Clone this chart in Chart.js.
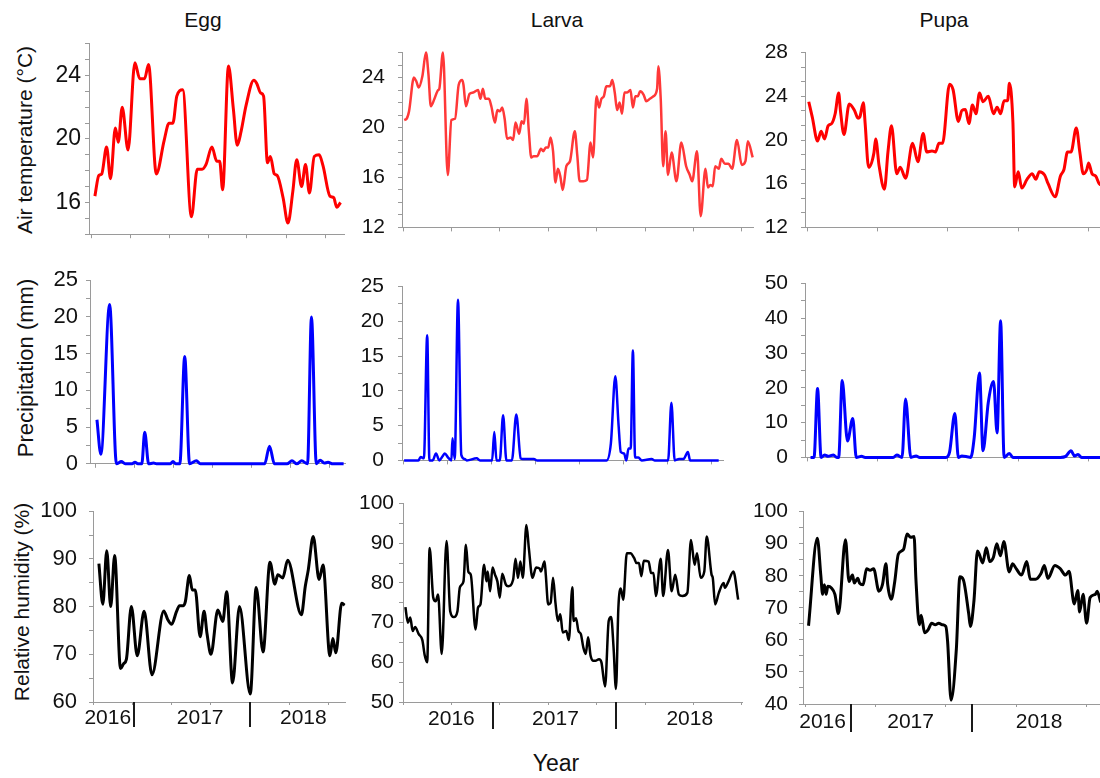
<!DOCTYPE html>
<html>
<head>
<meta charset="utf-8">
<title>Weather by stage</title>
<script src="https://cdn.jsdelivr.net/npm/chart.js@4.4.1/dist/chart.umd.min.js"></script>
<style>
  html, body { margin: 0; padding: 0; background: #fff; overflow: hidden; }
  body { width: 1100px; height: 778px; position: relative; font-family: "Liberation Sans", Arial, sans-serif; color: #111; }
  canvas { position: absolute; }
  .t { position: absolute; white-space: nowrap; line-height: 1; transform: translateX(-50%); }
  .r { position: absolute; white-space: nowrap; line-height: 1; transform: translate(-50%, -50%) rotate(-90deg); }
</style>
</head>
<body>
<div class="t" style="left:203px; top:9px; font-size:21px;">Egg</div>
<div class="t" style="left:557px; top:9px; font-size:21px;">Larva</div>
<div class="t" style="left:944px; top:9px; font-size:21px;">Pupa</div>
<div class="t" style="left:556px; top:752px; font-size:23px;">Year</div>
<div class="r" style="left:24px; top:140px; font-size:21px;">Air temperature (°C)</div>
<div class="r" style="left:26px; top:368px; font-size:22px;">Precipitation (mm)</div>
<div class="r" style="left:21px; top:602px; font-size:21px;">Relative humidity (%)</div>

<script>
// sample index (t) and value arrays for each stage
const eggTempT = [4,8,11,16,20,25,28,32,38,45,50,55,59,67,75,80,84,88,94,103,109,114,118,124,129,132,135,141,146,150,154,159,167,170,174,177,181,184,188,191,197,202,207,211,216,220,224,229,234,238,245,249,252,256];
const eggTemp  = [16.4,17.7,17.8,19.5,17.5,20.7,19.8,22.0,19.3,24.8,23.8,23.8,24.7,17.8,19.9,21.0,21.0,22.7,23.1,15.1,18.1,18.1,18.4,19.5,18.6,18.6,16.8,24.6,21.9,19.6,20.5,22.1,23.7,23.5,22.9,22.7,18.5,18.9,17.8,17.7,16.3,14.7,16.7,18.7,17.0,18.4,16.6,18.9,19.0,18.3,16.4,16.3,15.7,16.0];

const eggRainT = [2,6,15,22,27,31,38,41,44,48,51,55,60,63,77,80,83,87,92,97,104,108,174,179,184,197,202,207,212,218,222,227,231,235,239,244,255];
const eggRain  = [6.0,1.3,21.7,0,0.3,0,0,0.2,0,0,4.3,0,0.1,0,0,0.3,0,0,14.6,0,0.4,0,0,2.4,0,0,0.4,0,0.4,0,20.0,0,0.5,0.1,0.2,0,0];

const eggHumT = [6,10,14,18,22,28,31,34,39,45,52,60,72,76,80,85,88,92,94,98,101,104,109,113,116,120,127,132,136,142,149,160,166,173,180,185,188,193,198,212,216,219,224,230,234,241,244,247,253,256];
const eggHum  = [89.0,80.5,91.7,80.0,90.7,67.0,68.0,69.0,80.0,69.7,79.0,65.7,79.1,77.3,76.3,79.0,80.2,80.2,81.1,86.5,83.5,83.5,73.7,79.0,74.3,70.0,79.3,76.9,83.1,64.0,80.0,61.7,84.0,70.5,89.3,84.7,86.7,86.0,89.7,78.3,84.3,87.7,94.7,85.7,88.7,69.7,73.3,70.3,80.7,80.3];

const larvaTempT = [1,3,5,9,11,13,16,19,21,23,26,29,30,33,37,40,43,46,49,50,52,55,58,62,64,66,68,71,73,76,78,80,82,84,86,89,91,93,96,98,100,102,104,106,108,111,114,116,118,120,122,124,126,128,130,132,135,138,142,144,146,149,152,155,157,160,162,164,166,168,171,173,175,177,179,181,183,185,188,190,192,194,196,199,201,204,207,210,211,213,215,217,219,222,226,230,234,237,239,243,246,250,252,254,256,258,261,263,266,269,272,276,280,283,285,289];
const larvaTemp  = [20.6,20.7,21.3,24.0,23.7,23.2,24.1,26.0,24.3,21.7,22.3,23.0,23.1,26.0,16.2,20.6,20.7,23.4,23.8,23.4,21.7,22.7,22.8,23.0,22.3,23.1,22.3,22.3,21.7,20.4,21.4,21.3,21.6,20.7,19.1,19.2,19.0,20.4,19.5,20.5,20.3,22.3,19.7,17.6,17.7,17.7,18.3,18.1,18.4,18.4,19.2,18.1,15.6,16.7,16.1,15.0,16.9,17.3,19.7,17.8,15.7,15.7,15.8,18.8,17.6,22.5,21.6,22.3,22.5,23.3,23.3,23.8,22.8,21.4,22.0,21.1,22.8,22.8,23.0,21.6,22.5,22.5,22.9,22.6,22.1,22.3,22.5,23.1,24.9,22.3,16.9,19.7,16.2,18.0,15.7,18.8,16.9,16.2,15.7,18.1,12.9,16.7,15.2,15.4,15.3,16.9,16.7,17.5,17.1,17.1,16.7,19.0,17.0,17.3,18.9,17.6];

const larvaRainT = [1,14,16,19,22,24,27,30,33,36,38,41,44,45,47,50,53,56,58,67,70,81,83,85,88,91,94,99,103,107,109,119,122,185,189,193,196,198,201,203,205,207,209,211,214,217,226,229,241,244,247,251,255,259,261,287];
const larvaRain  = [0,0,0.5,0.3,18.0,0,0,1.0,0,0.6,1.0,0.4,0,3.2,0.2,23.1,0.8,0.2,0,0.3,0,0,4.1,0,0,6.5,0,0,6.6,0.3,0.2,0.2,0,0,2.5,12.1,5.0,1.2,1.0,0,1.7,1.7,15.8,0.4,0.4,0,0.2,0,0,8.3,0,0.2,0.2,1.2,0,0];

const larvaHumT = [2,4,6,8,10,13,16,18,20,22,25,27,29,32,36,39,42,45,47,50,52,54,56,60,62,64,67,69,70,72,74,76,78,80,82,85,87,91,93,95,97,99,102,104,107,110,113,114,117,118,120,122,124,126,128,130,132,135,137,140,141,143,145,147,149,151,153,155,157,159,162,164,167,170,172,174,176,178,180,182,185,188,191,193,195,197,199,203,205,207,209,213,215,219,222,225,228,231,235,238,241,243,246,249,251,255,256,258,261,265,266,269,273,277];
const larvaHum  = [73.9,70.0,71.3,67.9,68.9,67.1,65.6,61.7,60.0,88.8,76.3,75.4,77.1,62.1,90.6,72.9,71.4,72.9,78.9,80.4,89.6,82.8,82.1,68.3,73.8,74.6,84.6,80.4,82.9,77.9,83.9,82.1,80.4,76.3,82.3,79.6,79.2,80.8,86.1,81.3,85.4,81.3,94.6,88.8,81.3,83.9,83.6,82.9,85.4,82.1,74.6,75.0,81.3,75.0,70.4,72.1,67.5,67.9,65.6,78.9,70.4,71.1,67.9,67.1,63.8,62.1,66.3,61.7,60.4,60.4,60.8,60.0,53.9,70.4,71.4,63.8,53.3,73.8,78.6,75.8,87.5,87.5,86.3,85.0,85.0,81.7,85.6,85.4,82.5,82.5,76.7,86.1,76.7,88.3,77.9,82.1,77.1,76.7,77.5,90.8,84.6,87.5,81.3,82.9,91.7,82.1,81.3,74.6,77.5,80.0,78.8,80.4,82.9,75.8];

const pupaTempT = [1,3,6,8,10,12,14,16,18,19,21,24,27,29,30,32,33,35,38,39,41,44,46,48,51,53,56,60,63,66,68,71,73,75,77,81,83,86,88,90,92,94,96,98,100,103,106,108,110,112,114,115,117,118,120,122,125,128,130,132,135,137,141,144,146,148,150,153,155,157,159,160,162,164,166,168];
const pupaTemp  = [23.5,22.1,19.9,20.8,20.1,21.3,21.5,22.4,24.3,22.7,20.5,23.3,22.7,22.0,22.1,23.4,21.6,17.5,18.8,20.1,17.6,15.5,18.9,21.3,16.9,17.5,16.5,19.7,18.0,20.6,18.9,19.0,18.9,19.7,19.7,25.1,24.6,21.7,22.7,22.8,21.5,23.2,22.4,24.3,23.5,24.0,22.4,23.0,22.4,23.6,23.6,25.2,21.6,15.7,17.1,15.6,16.4,16.9,16.4,17.1,16.8,16.0,14.8,16.7,17.3,18.9,18.9,21.1,18.9,16.9,17.3,17.9,16.9,16.7,16.0,15.8];

const pupaRainT = [2,4,6,8,10,12,15,17,18,20,23,26,28,31,33,49,51,54,56,59,62,64,79,81,84,86,88,91,93,95,98,100,103,106,108,110,112,115,117,144,147,150,152,154,156,168];
const pupaRain  = [0,0,19.8,0,0.7,0.3,0.7,0,0,22.1,4.7,11.2,0,0.3,0,0,0.7,0,16.8,0,0.4,0,0,1.5,12.6,0,0.4,0.2,0,5.7,24.3,1.9,15.8,21.8,7.0,39.3,0,1.1,0,0,0.3,1.9,0.4,0.8,0,0];

const pupaHumT = [2,7,9,10,11,12,13,15,17,19,23,25,27,28,30,31,33,35,37,39,42,44,46,47,49,51,53,56,58,60,62,63,65,66,68,70,72,74,76,78,80,81,83,86,88,90,93,94,96,98,99,101,103,105,107,109,111,113,116,118,120,123,126,128,131,134,136,138,142,145,148,150,153,155,156,158,160,162,165,166,168];
const pupaHum  = [64.4,91.7,80.0,74.2,77.2,74.2,76.7,76.2,74.2,68.2,91.2,78.2,80.2,77.7,79.2,77.7,77.2,82.2,81.7,82.2,75.2,77.2,83.7,77.2,72.7,78.2,86.7,88.2,93.0,92.0,92.2,79.2,64.7,67.7,62.2,63.2,65.2,64.7,65.2,64.7,64.2,59.7,41.2,57.2,79.7,78.7,68.2,64.2,72.2,87.7,86.7,84.0,88.7,84.4,85.7,90.0,86.2,90.7,81.2,83.7,82.2,80.2,84.4,78.9,78.9,80.6,83.2,79.2,83.2,82.2,80.2,81.4,71.2,75.4,68.7,74.2,65.2,73.2,74.2,75.2,71.7];

// year labels and where each year ends, in sample index
const yearNames = ['2016', '2017', '2018'];
const eggYearAt = [15, 109, 214],   eggYearBreaks = [42, 160];
const larvaYearAt = [40, 126, 237], larvaYearBreaks = [74, 176];
const pupaYearAt = [10, 60, 133],   pupaYearBreaks = [26, 95];

const FONT = '"Liberation Sans", Arial, sans-serif';
const AXIS = '#9a9a9a';
const YW = 80, RP = 8, TP = 16;

// tick marks under the bottom axis split the years; labels sit between them
function yearPlugin(cfg) {
  return {
    id: 'yearMarks',
    afterDraw(chart) {
      const { ctx, chartArea } = chart;
      const x = chart.scales.x;
      ctx.save();
      ctx.strokeStyle = '#1a1a1a';
      ctx.lineWidth = 2;
      cfg.breaks.forEach(b => {
        const px = Math.round(x.getPixelForValue(b));
        ctx.beginPath();
        ctx.moveTo(px, chartArea.bottom);
        ctx.lineTo(px, chartArea.bottom + cfg.sep);
        ctx.stroke();
      });
      ctx.fillStyle = '#111';
      ctx.font = '21px ' + FONT;
      ctx.textAlign = 'center';
      ctx.textBaseline = 'alphabetic';
      cfg.labels.forEach((s, i) => ctx.fillText(s, x.getPixelForValue(cfg.at[i]), chartArea.bottom + cfg.dy));
      ctx.restore();
    }
  };
}

function makePanel(p) {
  const plotW = p.right - p.left, plotH = p.bottom - p.top;
  const XH = p.years ? 40 : 10;
  const w = YW + plotW + RP, h = TP + plotH + XH;
  const cv = document.createElement('canvas');
  cv.width = w; cv.height = h;
  cv.style.left = (p.left - YW) + 'px';
  cv.style.top = (p.top - TP) + 'px';
  cv.style.width = w + 'px';
  cv.style.height = h + 'px';
  document.body.appendChild(cv);

  const xMin = (p.left - p.x0) / p.ppu;
  const xMax = (p.right - p.x0) / p.ppu;

  new Chart(cv, {
    type: 'line',
    data: {
      datasets: [{
        data: p.t.map((t, i) => ({ x: t, y: p.v[i] })),
        borderColor: p.color,
        borderWidth: p.lw,
        pointRadius: 0,
        cubicInterpolationMode: 'monotone',
        tension: 0.4,
        clip: false
      }]
    },
    options: {
      responsive: false,
      animation: false,
      devicePixelRatio: 1,
      events: [],
      layout: { padding: { top: TP, right: RP, left: 0, bottom: 0 } },
      plugins: { legend: { display: false }, tooltip: { enabled: false } },
      scales: {
        x: {
          type: 'linear',
          min: xMin,
          max: xMax,
          afterBuildTicks: s => {
            const ticks = [];
            for (let v = 0; v <= xMax; v += 40) ticks.push({ value: v });
            s.ticks = ticks;
          },
          afterFit: s => { s.height = XH; },
          ticks: { display: false },
          grid: { drawOnChartArea: false, tickLength: p.years ? 3 : 4, color: AXIS },
          border: { color: AXIS }
        },
        y: {
          type: 'linear',
          min: p.yMin,
          max: p.yMax,
          afterBuildTicks: s => {
            const ticks = [];
            for (let i = 0; ; i++) {
              const v = p.yMin + i * p.yStep;
              if (v > p.yMax + 1e-6) break;
              ticks.push({ value: v });
            }
            s.ticks = ticks;
          },
          afterFit: s => { s.width = YW; },
          ticks: {
            autoSkip: false,
            padding: p.pad,
            color: '#111',
            font: { family: FONT, size: p.fs || 21 },
            callback: v => {
              const r = v / p.yMajor;
              return Math.abs(r - Math.round(r)) < 1e-6 ? String(Math.round(v)) : '';
            }
          },
          grid: { drawOnChartArea: false, tickLength: 4, color: AXIS },
          border: { color: AXIS }
        }
      }
    },
    plugins: p.years ? [yearPlugin(p.years)] : []
  });
}

const RED = '#ff0000', RED_L = '#ff3838', BLUE = '#0000ff', BLACK = '#000000';

[
  // Egg
  { t: eggTempT, v: eggTemp, color: RED, lw: 3, left: 89, x0: 91, ppu: 0.975, right: 344, top: 42, bottom: 242, yMin: 14, yMax: 26, yStep: 1, yMajor: 4, pad: 4, fs: 23 },
  { t: eggRainT, v: eggRain, color: BLUE, lw: 3, left: 90, x0: 95, ppu: 0.975, right: 345, top: 275, bottom: 475, yMin: 0, yMax: 25, yStep: 2.5, yMajor: 5, pad: 8, fs: 22 },
  { t: eggHumT, v: eggHum, color: BLACK, lw: 3, left: 93, x0: 93, ppu: 0.983, right: 345, top: 502, bottom: 702, yMin: 60, yMax: 100, yStep: 5, yMajor: 10, pad: 12, fs: 22,
    years: { breaks: eggYearBreaks, at: eggYearAt, labels: yearNames, dy: 22, sep: 25 } },
  // Larva
  { t: larvaTempT, v: larvaTemp, color: RED_L, lw: 2.5, left: 402, x0: 403, ppu: 1.21, right: 753, top: 43, bottom: 243, yMin: 12, yMax: 26, yStep: 1, yMajor: 4, pad: 13 },
  { t: larvaRainT, v: larvaRain, color: BLUE, lw: 2.5, left: 402, x0: 403, ppu: 1.1, right: 723, top: 276, bottom: 477, yMin: 0, yMax: 25, yStep: 2.5, yMajor: 5, pad: 14 },
  { t: larvaHumT, v: larvaHum, color: BLACK, lw: 2.5, left: 403, x0: 403, ppu: 1.21, right: 742, top: 502, bottom: 702, yMin: 50, yMax: 100, yStep: 5, yMajor: 10, pad: 5,
    years: { breaks: larvaYearBreaks, at: larvaYearAt, labels: yearNames, dy: 23, sep: 27 } },
  // Pupa
  { t: pupaTempT, v: pupaTemp, color: RED, lw: 3, left: 805, x0: 807, ppu: 1.76, right: 1112, top: 43, bottom: 243, yMin: 12, yMax: 28, yStep: 4 / 3, yMajor: 4, pad: 13 },
  { t: pupaRainT, v: pupaRain, color: BLUE, lw: 3, left: 805, x0: 807, ppu: 1.76, right: 1112, top: 274, bottom: 473, yMin: 0, yMax: 50, yStep: 5, yMajor: 10, pad: 13 },
  { t: pupaHumT, v: pupaHum, color: BLACK, lw: 3, left: 803, x0: 805, ppu: 1.76, right: 1112, top: 504, bottom: 704, yMin: 40, yMax: 100, yStep: 5, yMajor: 10, pad: 11,
    years: { breaks: pupaYearBreaks, at: pupaYearAt, labels: yearNames, dy: 24, sep: 28 } }
].forEach(makePanel);
</script>
</body>
</html>
